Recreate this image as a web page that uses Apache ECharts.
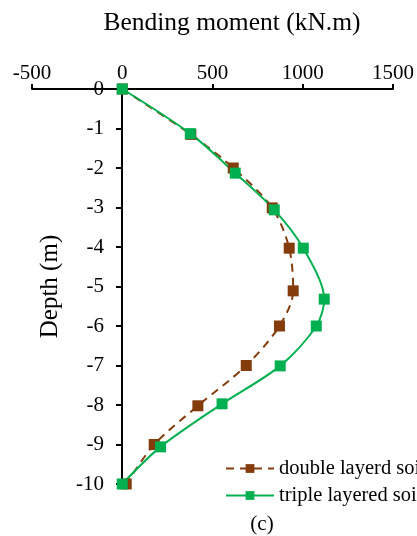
<!DOCTYPE html>
<html><head><meta charset="utf-8">
<script src="https://cdn.jsdelivr.net/npm/echarts@6/dist/echarts.min.js"></script>
<style>html,body{margin:0;padding:0;background:#fff}#c{width:417px;height:536px}</style>
</head><body><div id="c"></div>
<script>
const xTicks = [-500, 0, 500, 1000, 1500];
const yTicks = [0, -1, -2, -3, -4, -5, -6, -7, -8, -9, -10];
const seriesNames = ['double layerd soil', 'triple layered soil'];
const doubleMoment = [0, 380, 615, 831, 925, 947, 871, 687, 419, 177, 22];
const doubleDepth = [0, -1.15, -2.0, -3.01, -4.03, -5.11, -6.0, -7.0, -8.02, -9.0, -10.0];
const tripleMoment = [0, 377, 626, 842, 1003, 1119, 1075, 875, 553, 212, 0];
const tripleDepth = [0, -1.13, -2.13, -3.06, -4.03, -5.32, -6.0, -7.01, -7.97, -9.06, -10.0];

const font = 'Liberation Serif';
const chart = echarts.init(document.getElementById('c'), null, {renderer: 'canvas'});
chart.setOption({
  animation: false,
  backgroundColor: '#fff',
  title: [{
    text: 'Bending moment (kN.m)', left: 227, top: 5, textAlign: 'center',
    textStyle: {fontFamily: font, fontSize: 25.5, fontWeight: 'normal', color: '#000'}
  }, {
    text: '(c)', left: 257, top: 509, textAlign: 'center',
    textStyle: {fontFamily: font, fontSize: 21, fontWeight: 'normal', color: '#000'}
  }],
  grid: {left: 32, right: 24, top: 89, bottom: 52, containLabel: false, outerBoundsMode: 'none'},
  legend: {
    orient: 'vertical', left: 220, top: 453, itemWidth: 48, itemHeight: 11, itemGap: 6,
    textStyle: {fontFamily: font, fontSize: 20.5, color: '#000'},
    data: seriesNames
  },
  xAxis: {
    type: 'value', position: 'top', min: xTicks[0], max: xTicks[xTicks.length - 1], interval: 500,
    axisLine: {show: true, onZero: false, lineStyle: {color: '#000', width: 2}},
    axisTick: {show: true, inside: false, length: 5, lineStyle: {color: '#000', width: 2}},
    axisLabel: {fontFamily: font, fontSize: 21, color: '#000', margin: 5, formatter: v => String(v)},
    splitLine: {show: false}
  },
  yAxis: {
    type: 'value', min: yTicks[yTicks.length - 1], max: yTicks[0], interval: 1,
    offset: -90,
    name: 'Depth (m)', nameLocation: 'middle', nameGap: 59, nameRotate: 90,
    nameTextStyle: {fontFamily: font, fontSize: 25, color: '#000'},
    axisLine: {show: true, onZero: false, lineStyle: {color: '#000', width: 2}},
    axisTick: {show: true, length: 6, lineStyle: {color: '#000', width: 2}},
    axisLabel: {fontFamily: font, fontSize: 21, color: '#000', margin: 18, formatter: v => String(v)},
    splitLine: {show: false}
  },
  series: [{
    name: seriesNames[0], type: 'line', smooth: 0.3,
    data: doubleMoment.map((v, i) => [v, doubleDepth[i]]),
    symbol: 'rect', symbolSize: 11,
    itemStyle: {color: '#843C0C'},
    lineStyle: {color: '#843C0C', width: 2, type: [8, 6]}
  }, {
    name: seriesNames[1], type: 'line', smooth: 0.3,
    data: tripleMoment.map((v, i) => [v, tripleDepth[i]]),
    symbol: 'rect', symbolSize: 11,
    itemStyle: {color: '#00B050'},
    lineStyle: {color: '#00B050', width: 2}
  }]
});
</script></body></html>
